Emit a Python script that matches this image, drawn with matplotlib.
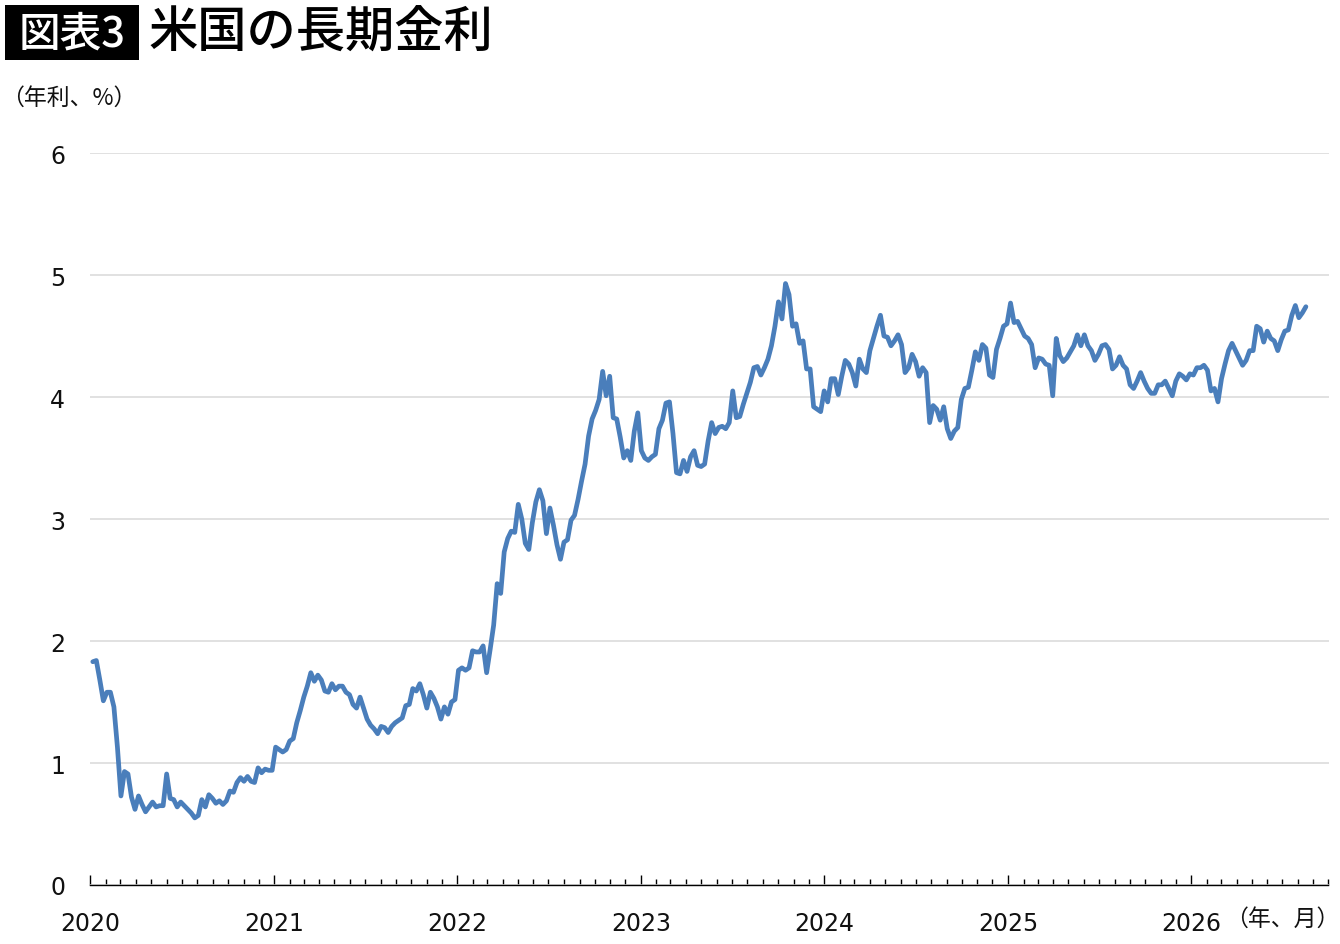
import matplotlib
matplotlib.use('Agg')
import matplotlib.pyplot as plt
import matplotlib.dates as mdates
import pandas as pd
from matplotlib.patches import Rectangle

# ---------------- texts ----------------
title_tag = '図表3'
title_text = '米国の長期金利'
y_unit = '（年利、%）'
x_unit = '（年、月）'

# ---------------- data (weekly, US 10y yield, %) ----------------
start_date = '2020-01-06'
y2020 = [1.83, 1.84, 1.68, 1.51, 1.58, 1.58, 1.46, 1.13, 0.73, 0.93,
         0.91, 0.72, 0.62, 0.73, 0.66, 0.60, 0.64, 0.68, 0.64, 0.65,
         0.65, 0.91, 0.71, 0.70, 0.64, 0.68, 0.65, 0.62, 0.59, 0.55,
         0.57, 0.70, 0.64, 0.74, 0.71, 0.67, 0.69, 0.66, 0.69, 0.77,
         0.76, 0.84, 0.88, 0.85, 0.89, 0.85, 0.84, 0.96, 0.92, 0.95,
         0.94, 0.94]
y2021 = [1.13, 1.11, 1.09, 1.11, 1.18, 1.20, 1.33, 1.43, 1.54, 1.63,
         1.74, 1.67, 1.72, 1.68, 1.59, 1.58, 1.65, 1.60, 1.63, 1.63,
         1.58, 1.56, 1.48, 1.45, 1.54, 1.45, 1.36, 1.31, 1.28, 1.24,
         1.30, 1.29, 1.25, 1.30, 1.33, 1.35, 1.37, 1.47, 1.48, 1.61,
         1.59, 1.65, 1.56, 1.45, 1.58, 1.53, 1.46, 1.36, 1.46, 1.40,
         1.50, 1.52]
y2022 = [1.76, 1.78, 1.76, 1.78, 1.92, 1.91, 1.91, 1.96, 1.74, 1.93,
         2.13, 2.47, 2.39, 2.73, 2.84, 2.90, 2.89, 3.12, 3.00, 2.80,
         2.75, 2.97, 3.14, 3.24, 3.15, 2.88, 3.09, 2.95, 2.79, 2.67,
         2.81, 2.83, 2.99, 3.03, 3.16, 3.31, 3.45, 3.68, 3.82, 3.89,
         3.98, 4.21, 4.01, 4.17, 3.83, 3.82, 3.67, 3.50, 3.56, 3.48,
         3.72, 3.87]
y2023 = [3.56, 3.50, 3.48, 3.51, 3.53, 3.74, 3.81, 3.95, 3.96, 3.70,
         3.38, 3.37, 3.48, 3.39, 3.51, 3.56, 3.44, 3.43, 3.45, 3.64,
         3.79, 3.70, 3.75, 3.76, 3.74, 3.79, 4.05, 3.83, 3.84, 3.94,
         4.03, 4.12, 4.24, 4.25, 4.18, 4.24, 4.31, 4.42, 4.58, 4.78,
         4.64, 4.93, 4.84, 4.58, 4.60, 4.44, 4.46, 4.23, 4.23, 3.92,
         3.90, 3.88]
y2024 = [4.05, 3.96, 4.15, 4.15, 4.02, 4.17, 4.30, 4.27, 4.20, 4.09,
         4.31, 4.23, 4.20, 4.38, 4.48, 4.58, 4.67, 4.50, 4.49, 4.42,
         4.46, 4.51, 4.43, 4.20, 4.24, 4.35, 4.29, 4.17, 4.24, 4.20,
         3.79, 3.93, 3.90, 3.81, 3.92, 3.74, 3.66, 3.72, 3.75, 3.98,
         4.07, 4.08, 4.22, 4.37, 4.30, 4.43, 4.40, 4.18, 4.16, 4.39,
         4.48, 4.58, 4.60]
y2025 = [4.77, 4.61, 4.62, 4.56, 4.50, 4.48, 4.43, 4.24, 4.32, 4.31,
         4.27, 4.26, 4.01, 4.48, 4.34, 4.29, 4.32, 4.37, 4.42, 4.51,
         4.42, 4.51, 4.42, 4.38, 4.30, 4.35, 4.42, 4.43, 4.39, 4.23,
         4.26, 4.33, 4.26, 4.23, 4.10, 4.07, 4.13, 4.20, 4.13, 4.07,
         4.03, 4.03, 4.10, 4.10, 4.13, 4.07, 4.01, 4.13, 4.19, 4.17,
         4.14, 4.19]
y2026 = [4.18, 4.24, 4.24, 4.26, 4.22, 4.05, 4.07, 3.96, 4.15, 4.27,
         4.38, 4.44, 4.38, 4.32, 4.26, 4.30, 4.38, 4.38, 4.58, 4.56,
         4.45, 4.54, 4.48, 4.46, 4.38, 4.47, 4.54, 4.55, 4.67, 4.75,
         4.65, 4.69, 4.74]

values = y2020 + y2021 + y2022 + y2023 + y2024 + y2025 + y2026
dates = pd.date_range(start_date, periods=len(values), freq='7D')

yticks = [0, 1, 2, 3, 4, 5, 6]
x_start = '2020-01-01'
x_end = '2026-10-01'

# ---------------- styling ----------------
LINE_COLOR = '#4A7EBB'
GRID_COLOR = '#D9D9D9'
CJK = ['Noto Sans CJK JP', 'DejaVu Sans']
NUM = ['DejaVu Sans', 'Noto Sans CJK JP']
plt.rcParams['font.family'] = NUM

W, H = 1340, 945
fig = plt.figure(figsize=(W / 100, H / 100), dpi=100)
fig.patch.set_facecolor('white')

ax = fig.add_axes([90.3 / W, 1 - 886 / H, (1328.5 - 90.3) / W, (886 - 154) / H])
ax.plot(dates, values, color=LINE_COLOR, lw=3.4, solid_joinstyle='round',
        solid_capstyle='round', zorder=3)

ax.set_ylim(0, 6)
ax.set_xlim(pd.Timestamp(x_start), pd.Timestamp(x_end))
ax.set_yticks(yticks)
ax.set_yticklabels([str(v) for v in yticks])
ax.grid(axis='y', color=GRID_COLOR, lw=1.1)
ax.set_axisbelow(True)
for s in ['top', 'right', 'left']:
    ax.spines[s].set_visible(False)
ax.spines['bottom'].set_color('black')
ax.spines['bottom'].set_linewidth(1.0)
ax.spines['bottom'].set_zorder(4)

ax.xaxis.set_major_locator(mdates.YearLocator())
ax.xaxis.set_major_formatter(mdates.DateFormatter('%Y'))
ax.xaxis.set_minor_locator(mdates.MonthLocator())
ax.tick_params(axis='x', which='major', direction='in', length=7, width=1.0,
               pad=19, labelsize=17, colors='black')
ax.tick_params(axis='x', which='minor', direction='in', length=4, width=1.0,
               colors='black')
ax.tick_params(axis='y', length=0, pad=18, labelsize=17, colors='black')
for lab in ax.get_xticklabels() + ax.get_yticklabels():
    lab.set_color('#111111')

# ---------------- title block ----------------
fig.patches.append(Rectangle((5 / W, 1 - 61 / H), 134 / W, 55 / H,
                             transform=fig.transFigure, facecolor='black',
                             edgecolor='none'))
fig.text(72 / W, 1 - 34 / H, title_tag, color='white', fontsize=30,
         fontweight='medium', ha='center', va='center', family=CJK)
fig.text(148 / W, 1 - 34 / H, title_text, color='black', fontsize=35.5,
         fontweight='medium', ha='left', va='center', family=CJK)

fig.text(1 / W, 1 - 98 / H, y_unit, color='#111111', fontsize=16.5,
         ha='left', va='center', family=CJK)
fig.text(1339 / W, 1 - 919 / H, x_unit, color='#111111', fontsize=16.5,
         ha='right', va='center', family=CJK)

fig.savefig('out.png', dpi=100, facecolor='white')
